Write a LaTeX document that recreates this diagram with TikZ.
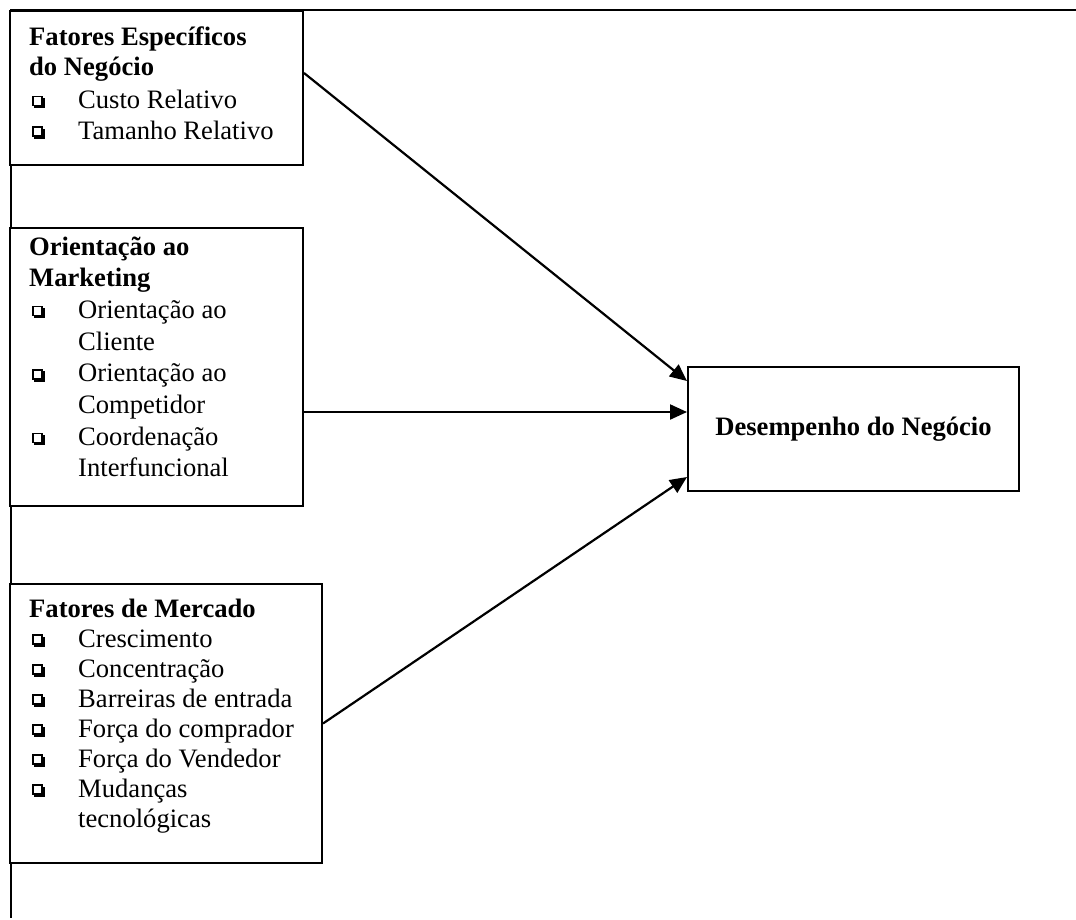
\documentclass[tikz,border=0pt]{standalone}
\usepackage{fontspec}
\setmainfont{Liberation Serif}
\usetikzlibrary{arrows.meta,calc}
\newcommand{\qbul}{\makebox[13pt][l]{%
 \rlap{\kern2.2pt\rule{10.5pt}{10.5pt}}%
 \rlap{\raisebox{2.2pt}{\rule{10.5pt}{10.5pt}}}%
 \rlap{\kern1.5pt\raisebox{3.7pt}{\textcolor{white}{\rule{7.5pt}{7.5pt}}}}}}
\newcommand{\itm}[1]{\makebox[49pt][l]{\hspace{3pt}\qbul}#1}
\newcommand{\cnt}[1]{\hspace*{49pt}#1}
\begin{document}
\begin{tikzpicture}[x=1pt,y=-1pt,
  frame/.style={line width=2.2pt},
  boxnode/.style={draw,line width=2pt,fill=white,anchor=north west,inner sep=0pt},
  txt/.style={anchor=base west,inner sep=0pt},
  arr/.style={line width=2.2pt,-{Triangle[length=17pt,width=15pt]}}]
\useasboundingbox (0,0) rectangle (1076,919);
\fontsize{26.6}{30.5}\selectfont
\coordinate (ftr) at (1076,10);
\coordinate (fbl) at (11,918);
\draw[frame] (ftr) -| (fbl);
\node[boxnode,minimum width=293pt,minimum height=154pt] (b1) at (9,10) {};
\node[boxnode,minimum width=293pt,minimum height=278pt] (b2) at (9,227) {};
\node[boxnode,minimum width=312pt,minimum height=279pt] (b3) at (9,583) {};
\node[boxnode,minimum width=331pt,minimum height=124pt,font=\bfseries] (d) at (687,366) {Desempenho do Negócio};
\node[txt] (t1) at (29,45) {\parbox[t]{270pt}{\fontsize{26.6}{30.7}\selectfont
 \textbf{Fatores Específicos}\\
 \textbf{do Negócio}\\[2pt]
 \itm{Custo Relativo}\\
 \itm{Tamanho Relativo}}};
\node[txt] (t2) at (29,255) {\parbox[t]{270pt}{\fontsize{26.6}{31.7}\selectfont
 \textbf{Orientação ao}\\
 \textbf{Marketing}\\
 \itm{Orientação ao}\\
 \cnt{Cliente}\\
 \itm{Orientação ao}\\
 \cnt{Competidor}\\
 \itm{Coordenação}\\
 \cnt{Interfuncional}}};
\node[txt] (t3) at (29,617) {\parbox[t]{290pt}{\fontsize{26.6}{30}\selectfont
 \textbf{Fatores de Mercado}\\
 \itm{Crescimento}\\
 \itm{Concentração}\\
 \itm{Barreiras de entrada}\\
 \itm{Força do comprador}\\
 \itm{Força do Vendedor}\\
 \itm{Mudanças}\\
 \cnt{tecnológicas}}};
\draw[arr] ([yshift=15pt]b1.east) -- ([yshift=48pt]d.west);
\draw[arr] ([yshift=-45pt]b2.east) -- ([yshift=17pt]d.west);
\draw[arr] (b3.east) -- ([yshift=-48pt]d.west);
\end{tikzpicture}
\end{document}
